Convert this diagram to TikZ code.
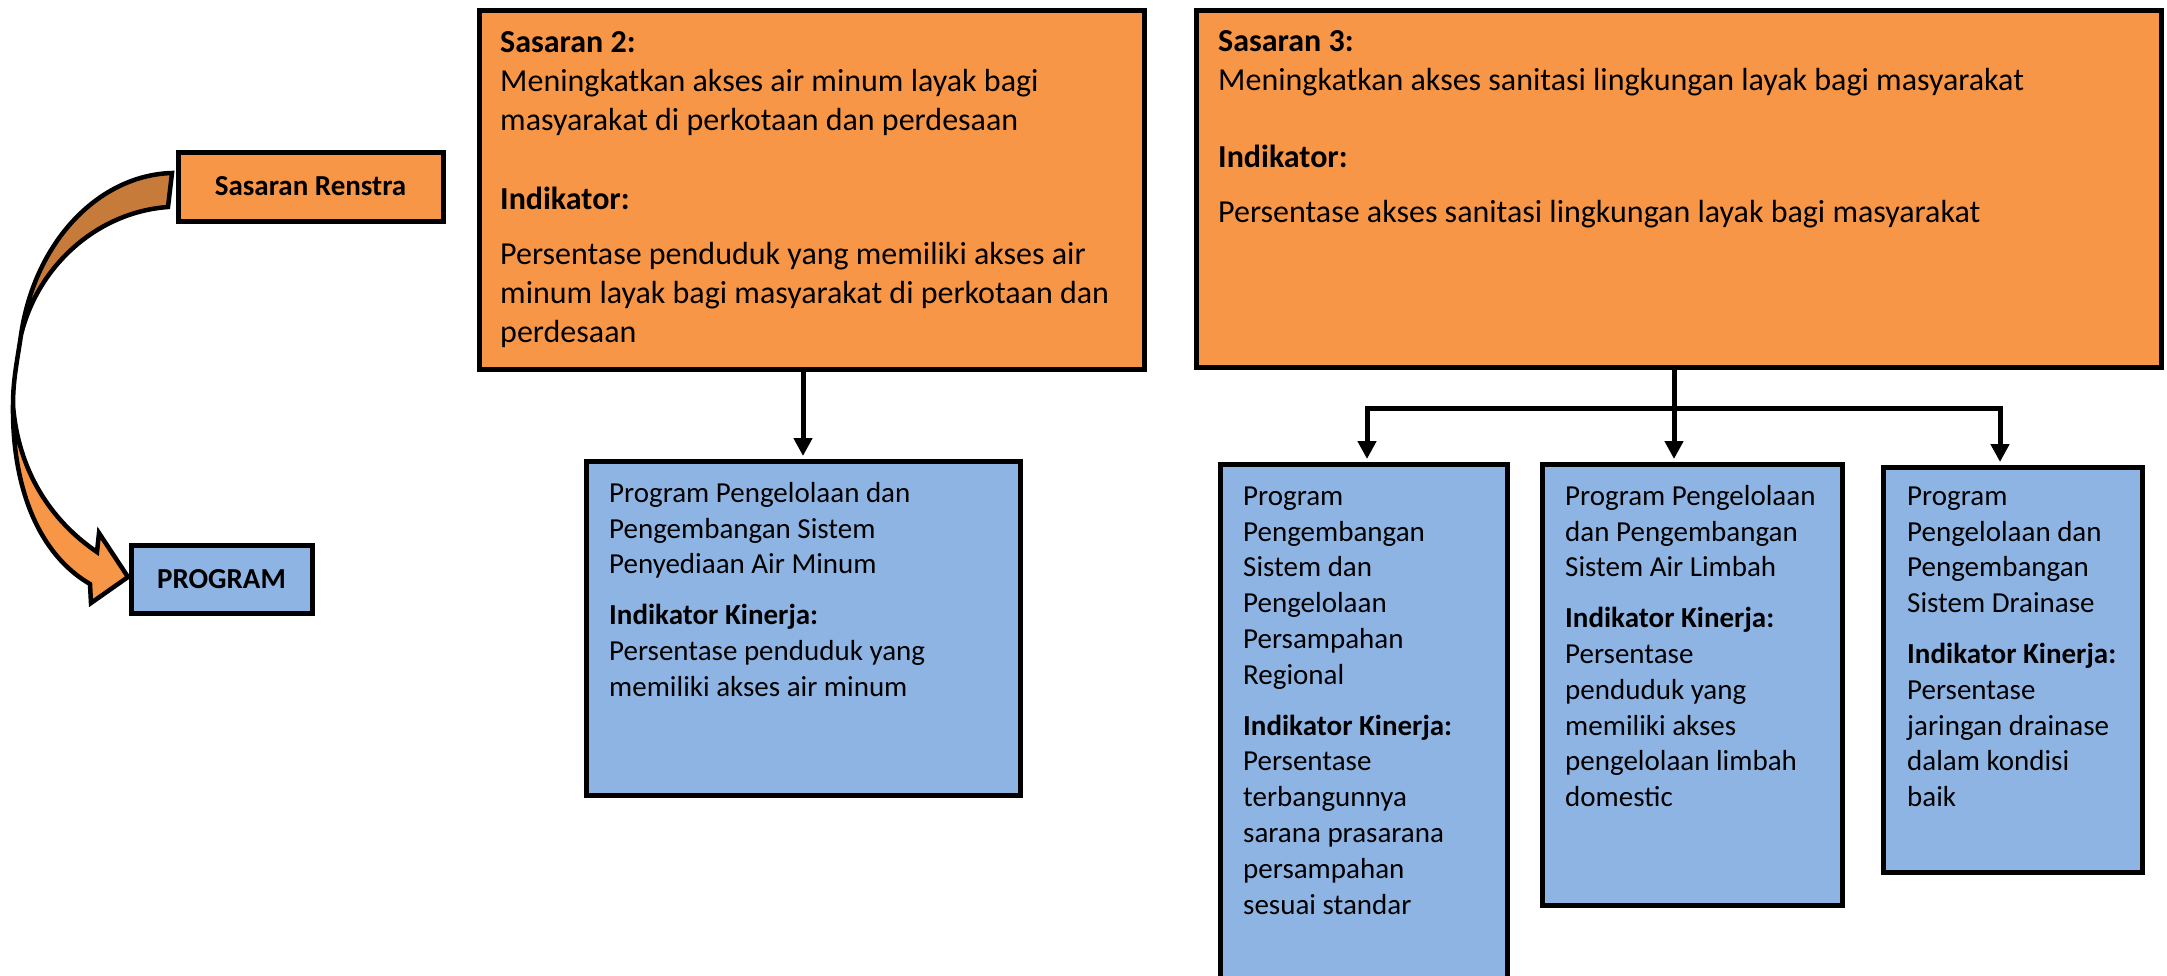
\documentclass[tikz,border=0pt]{standalone}
\usepackage{fontspec}
\setmainfont{Carlito}
\usetikzlibrary{arrows.meta}
\definecolor{org}{HTML}{F79646}
\definecolor{blu}{HTML}{8EB4E3}
\definecolor{drk}{HTML}{C67B3A}
\tikzset{
  obox/.style={draw=black, line width=5pt, fill=org, rectangle, inner sep=0pt, outer sep=0pt, anchor=north west},
  bbox/.style={draw=black, line width=5pt, fill=blu, rectangle, inner sep=0pt, outer sep=0pt, anchor=north west},
  bigtxt/.style={inner sep=0pt, anchor=north west, align=left, font=\fontsize{32}{39}\selectfont},
  smtxt/.style={inner sep=0pt, anchor=north west, align=left, font=\fontsize{29}{35.8}\selectfont},
  lbl/.style={font=\fontsize{29}{35}\selectfont\bfseries},
  arr/.style={line width=5pt, -{Triangle[width=18pt,length=18pt]}, shorten >=5pt, line join=miter},
  band/.style={draw=black, line width=4.5pt, line join=miter},
}
\begin{document}
\begin{tikzpicture}[x=1pt, y=-1pt]
\useasboundingbox (0,0) rectangle (2167,975);

% left legend
\node[obox, lbl, minimum width=265pt, minimum height=69pt] (ren) at (178,152) {Sasaran Renstra};
\node[bbox, lbl, minimum width=181pt, minimum height=68pt] (prog) at (131,545) {PROGRAM};

% curved arrow
\draw[band, fill=org] (13,405) .. controls (18,470) and (50,520) .. (97,552)
   -- (99,533) -- (128,577) -- (91,603) -- (90,584)
   .. controls (40,555) and (12,490) .. (13,405) -- cycle;
\draw[band, fill=drk] (172,173) .. controls (100,175) and (35,240) .. (21,335)
   .. controls (38,265) and (98,212) .. (168,207) -- cycle;
\draw[band] (21,335) .. controls (17,362) and (13,380) .. (13,405);

% orange boxes
\node[obox, minimum width=665pt, minimum height=359pt] (s2) at (479,10) {};
\node[bigtxt] (s2t) at (500,22) {\rule{0pt}{30pt}{\bfseries Sasaran 2:}\\
  Meningkatkan akses air minum layak bagi\\
  masyarakat di perkotaan dan perdesaan\\[40pt]
  {\bfseries Indikator:}\\[16pt]
  Persentase penduduk yang memiliki akses air\\
  minum layak bagi masyarakat di perkotaan dan\\
  perdesaan};

\node[obox, minimum width=965pt, minimum height=357pt] (s3) at (1196,10) {};
\node[bigtxt] (s3t) at (1218,21) {\rule{0pt}{30pt}{\bfseries Sasaran 3:}\\
  Meningkatkan akses sanitasi lingkungan layak bagi masyarakat\\[38pt]
  {\bfseries Indikator:}\\[16pt]
  Persentase akses sanitasi lingkungan layak bagi masyarakat};

% blue boxes
\node[bbox, minimum width=434pt, minimum height=334pt] (p1) at (586,461) {};
\node[smtxt] (p1t) at (609,475) {\rule{0pt}{27pt}Program Pengelolaan dan\\
  Pengembangan Sistem\\
  Penyediaan Air Minum\\[15pt]
  {\bfseries Indikator Kinerja:}\\
  Persentase penduduk yang\\
  memiliki akses air minum};

\node[bbox, minimum width=287pt, minimum height=521pt] (pa) at (1220,464) {};
\node[smtxt] (pat) at (1243,478) {\rule{0pt}{27pt}Program\\
  Pengembangan\\
  Sistem dan\\
  Pengelolaan\\
  Persampahan\\
  Regional\\[15pt]
  {\bfseries Indikator Kinerja:}\\
  Persentase\\
  terbangunnya\\
  sarana prasarana\\
  persampahan\\
  sesuai standar};

\node[bbox, minimum width=300pt, minimum height=441pt] (pb) at (1542,464) {};
\node[smtxt] (pbt) at (1565,478) {\rule{0pt}{27pt}Program Pengelolaan\\
  dan Pengembangan\\
  Sistem Air Limbah\\[15pt]
  {\bfseries Indikator Kinerja:}\\
  Persentase\\
  penduduk yang\\
  memiliki akses\\
  pengelolaan limbah\\
  domestic};

\node[bbox, minimum width=259pt, minimum height=405pt] (pc) at (1883,467) {};
\node[smtxt] (pct) at (1907,478) {\rule{0pt}{27pt}Program\\
  Pengelolaan dan\\
  Pengembangan\\
  Sistem Drainase\\[15pt]
  {\bfseries Indikator Kinerja:}\\
  Persentase\\
  jaringan drainase\\
  dalam kondisi\\
  baik};

% connectors
\coordinate (jm) at (1674,408);
\coordinate (jl) at (1367,408);
\coordinate (jr) at (2000,408);
\draw[arr] (s2.south -| p1.north) -- (p1.north);
\draw[line width=5pt] (s3.south -| jm) -- (jm);
\draw[arr] (jm) -- (jl) -- (jl |- pa.north);
\draw[arr] (jm) -- (jr) -- (jr |- pc.north);
\draw[arr] (jm) -- (jm |- pb.north);
\end{tikzpicture}
\end{document}
